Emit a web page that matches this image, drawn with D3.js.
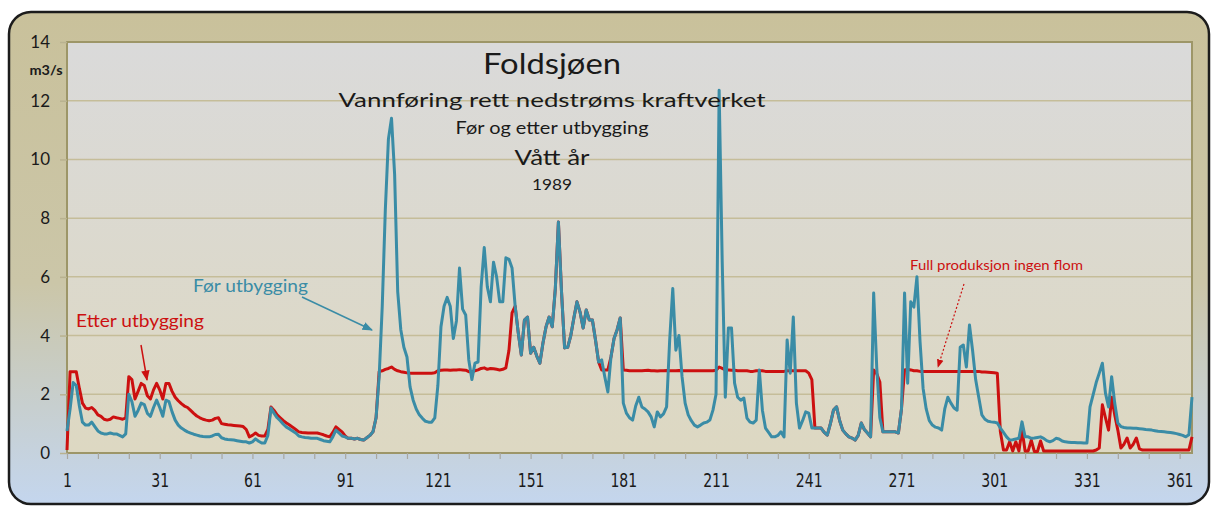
<!DOCTYPE html>
<html>
<head>
<meta charset="utf-8">
<script src="https://cdn.jsdelivr.net/npm/d3@7"></script>
<style>
  body { margin: 0; background: #fff; }
  svg { display: block; }
  text { font-family: Lato, "Noto Sans", sans-serif; fill: #1a1a1a; }
</style>
</head>
<body>
<div id="chart"></div>
<script>
"use strict";

// daily flow, m3/s, day 1..365 (1989)
var foer = [
  0.75,1.5,2.4,2.3,1.6,1.05,0.95,0.95,1.05,0.9,
  0.75,0.68,0.65,0.65,0.68,0.65,0.65,0.6,0.55,0.65,
  2.0,1.75,1.25,1.45,1.7,1.65,1.35,1.25,1.55,1.8,
  1.55,1.25,1.8,1.75,1.4,1.12,0.95,0.85,0.78,0.72,
  0.68,0.64,0.61,0.58,0.56,0.55,0.55,0.58,0.63,0.64,
  0.52,0.48,0.46,0.45,0.44,0.42,0.4,0.38,0.38,0.34,
  0.38,0.48,0.4,0.34,0.34,0.6,1.53,1.35,1.2,1.1,
  0.98,0.88,0.82,0.75,0.68,0.58,0.55,0.53,0.52,0.5,
  0.5,0.5,0.46,0.42,0.4,0.38,0.55,0.78,0.68,0.58,
  0.55,0.5,0.5,0.48,0.5,0.46,0.44,0.52,0.6,0.72,
  1.2,2.6,5.0,8.3,10.7,11.4,9.5,5.5,4.2,3.6,
  3.27,2.25,1.8,1.5,1.3,1.18,1.08,1.05,1.05,1.2,
  2.3,4.3,5.0,5.3,5.0,3.9,4.5,6.3,4.9,4.7,
  3.17,2.5,3.06,3.1,5.66,7.0,5.66,5.15,6.5,6.0,
  5.15,5.15,6.65,6.6,6.3,5.0,4.1,3.34,4.53,4.63,
  3.4,3.6,3.3,3.06,3.75,4.3,4.63,4.3,5.6,7.87,
  5.5,3.58,3.6,4.0,4.6,5.15,4.8,4.26,4.87,4.53,
  4.53,3.85,3.1,3.17,2.6,2.08,3.27,3.9,4.2,4.6,
  1.7,1.36,1.2,1.12,1.6,1.9,1.57,1.5,1.4,1.23,
  0.89,1.4,1.23,1.33,1.57,3.85,5.6,3.5,4.0,2.6,
  1.7,1.3,1.1,0.95,0.89,0.95,1.02,1.05,1.12,1.46,
  2.0,12.36,6.5,1.9,4.26,4.26,2.38,1.9,1.8,1.87,
  1.19,1.05,1.02,1.12,2.83,1.46,0.85,0.7,0.55,0.55,
  0.6,0.72,0.55,3.85,2.72,4.63,1.7,0.85,1.1,1.4,
  1.36,0.85,0.85,0.85,0.85,0.7,0.61,1.0,1.46,1.57,
  1.1,0.78,0.65,0.55,0.51,0.44,0.6,1.02,0.8,0.68,
  0.55,5.45,2.9,1.2,0.72,0.72,0.72,0.72,0.72,0.68,
  1.5,5.45,2.38,5.15,4.97,6.0,3.8,2.2,1.5,1.1,
  0.95,0.88,0.85,0.78,1.5,1.9,1.7,1.53,1.46,3.6,
  3.68,2.93,4.36,3.5,2.5,1.9,1.3,1.15,1.08,1.06,
  1.05,1.02,0.85,0.7,0.55,0.44,0.45,0.48,0.5,1.06,
  0.55,0.55,0.5,0.51,0.53,0.55,0.5,0.42,0.38,0.42,
  0.5,0.48,0.41,0.38,0.37,0.36,0.36,0.35,0.35,0.34,
  0.34,1.57,1.98,2.4,2.72,3.06,2.04,1.57,2.6,1.7,
  1.02,0.9,0.87,0.85,0.85,0.84,0.84,0.83,0.82,0.8,
  0.79,0.78,0.76,0.74,0.73,0.72,0.71,0.7,0.68,0.66,
  0.63,0.6,0.55,0.62,1.9
];

var etter = [
  0.1,2.77,2.77,2.77,2.2,1.7,1.53,1.5,1.55,1.45,
  1.3,1.25,1.15,1.12,1.15,1.23,1.2,1.18,1.15,1.2,
  2.6,2.5,1.84,2.1,2.37,2.3,1.95,1.84,2.15,2.37,
  2.15,1.84,2.37,2.37,2.1,1.9,1.78,1.68,1.6,1.55,
  1.45,1.35,1.26,1.2,1.15,1.12,1.1,1.12,1.18,1.2,
  1.0,0.98,0.96,0.95,0.94,0.93,0.92,0.9,0.8,0.55,
  0.6,0.68,0.6,0.58,0.58,0.8,1.57,1.45,1.3,1.2,
  1.1,1.02,0.95,0.88,0.8,0.72,0.7,0.69,0.68,0.68,
  0.68,0.68,0.65,0.62,0.58,0.55,0.7,0.89,0.8,0.72,
  0.58,0.5,0.5,0.48,0.5,0.46,0.44,0.52,0.6,0.72,
  1.2,2.77,2.8,2.85,2.88,2.93,2.85,2.8,2.77,2.75,
  2.73,2.72,2.72,2.72,2.72,2.72,2.72,2.72,2.72,2.73,
  2.8,2.82,2.83,2.83,2.82,2.83,2.83,2.84,2.83,2.82,
  2.77,2.77,2.8,2.83,2.88,2.9,2.85,2.88,2.87,2.85,
  2.83,2.85,2.9,3.5,4.77,5.0,4.1,3.34,4.53,4.63,
  3.4,3.6,3.3,3.06,3.75,4.3,4.63,4.3,5.6,7.87,
  5.5,3.58,3.6,4.0,4.6,5.15,4.8,4.26,4.87,4.53,
  4.53,3.85,3.1,2.83,2.83,2.83,3.27,3.9,4.2,4.6,
  2.83,2.82,2.8,2.8,2.8,2.8,2.8,2.81,2.82,2.8,
  2.8,2.79,2.8,2.8,2.81,2.8,2.8,2.8,2.81,2.8,
  2.8,2.8,2.8,2.8,2.8,2.8,2.8,2.8,2.8,2.8,
  2.82,2.93,2.88,2.83,2.83,2.82,2.82,2.8,2.8,2.8,
  2.8,2.78,2.78,2.8,2.8,2.8,2.78,2.78,2.78,2.78,
  2.78,2.78,2.78,2.8,2.8,2.8,2.8,2.8,2.8,2.8,
  2.72,2.5,0.85,0.85,0.85,0.7,0.61,1.0,1.46,1.57,
  1.1,0.78,0.65,0.55,0.51,0.44,0.6,1.02,0.8,0.68,
  0.55,2.83,2.7,2.42,0.72,0.72,0.72,0.72,0.72,0.68,
  1.5,2.83,2.85,2.83,2.8,2.8,2.78,2.78,2.78,2.78,
  2.78,2.78,2.78,2.78,2.78,2.78,2.78,2.78,2.78,2.78,
  2.78,2.78,2.78,2.78,2.78,2.78,2.76,2.76,2.75,2.74,
  2.73,2.72,0.72,0.1,0.1,0.38,0.07,0.38,0.07,0.8,
  0.07,0.07,0.44,0.05,0.05,0.41,0.07,0.07,0.07,0.07,
  0.07,0.07,0.07,0.07,0.07,0.07,0.07,0.07,0.07,0.07,
  0.07,0.07,0.07,0.1,0.17,1.64,1.2,0.78,1.9,1.3,
  0.78,0.17,0.3,0.51,0.17,0.3,0.51,0.14,0.1,0.1,
  0.1,0.1,0.1,0.1,0.1,0.1,0.1,0.1,0.1,0.1,
  0.1,0.1,0.1,0.1,0.55
];

var yTicks = [0, 2, 4, 6, 8, 10, 12, 14];
var xTickLabels = [1, 31, 61, 91, 121, 151, 181, 211, 241, 271, 301, 331, 361];
var xMinorTicks = d3.range(1, 366, 10);

var titleLines = [
  { text: "Foldsjøen", size: 29, y: 74, w: 138 },
  { text: "Vannføring rett nedstrøms kraftverket", size: 20, y: 107, w: 427 },
  { text: "Før og etter utbygging", size: 16.5, y: 134, w: 193 },
  { text: "Vått år", size: 22, y: 165, w: 75 },
  { text: "1989", size: 16, y: 190, w: 40 }
];

var blueColor = '#3a8ca6';
var redColor = '#cc1010';

var W = 1211, H = 506;
var plot = { left: 67, top: 42, right: 1192, bottom: 453 };

var svg = d3.select('#chart').append('svg')
  .attr('width', W)
  .attr('height', H);

var defs = svg.append('defs');

var bg = defs.append('linearGradient')
  .attr('id', 'bgGrad')
  .attr('x1', 0).attr('y1', 0).attr('x2', 0).attr('y2', 1);
bg.append('stop').attr('offset', '0%').attr('stop-color', '#c9c19b');
bg.append('stop').attr('offset', '55%').attr('stop-color', '#cbc6a8');
bg.append('stop').attr('offset', '100%').attr('stop-color', '#c4d6ee');

var pg = defs.append('linearGradient')
  .attr('id', 'plotGrad')
  .attr('x1', 0).attr('y1', 0).attr('x2', 0).attr('y2', 1);
pg.append('stop').attr('offset', '0%').attr('stop-color', '#dadada');
pg.append('stop').attr('offset', '100%').attr('stop-color', '#ddd8c2');

function arrowHead(id, color) {
  defs.append('marker')
    .attr('id', id)
    .attr('viewBox', '0 0 10 10')
    .attr('refX', 9).attr('refY', 5)
    .attr('markerWidth', 7).attr('markerHeight', 7)
    .attr('orient', 'auto')
    .append('path')
    .attr('d', 'M0,1 L10,5 L0,9 Z')
    .attr('fill', color);
}
arrowHead('arrBlue', blueColor);
arrowHead('arrRed', redColor);

// outer frame
svg.append('rect')
  .attr('x', 9).attr('y', 12)
  .attr('width', 1200).attr('height', 492)
  .attr('rx', 22)
  .attr('fill', 'url(#bgGrad)')
  .attr('stroke', '#1c1c1c')
  .attr('stroke-width', 2.5);

// plot area
svg.append('rect')
  .attr('x', plot.left).attr('y', plot.top)
  .attr('width', plot.right - plot.left)
  .attr('height', plot.bottom - plot.top)
  .attr('fill', 'url(#plotGrad)');

var x = d3.scaleLinear().domain([1, 365]).range([plot.left, plot.right]);
var y = d3.scaleLinear().domain([0, 14]).range([plot.bottom, plot.top]);

// gridlines
svg.append('g').selectAll('line')
  .data(yTicks.filter(function(d) { return d > 0 && d < 14; }))
  .enter().append('line')
  .attr('x1', plot.left).attr('x2', plot.right)
  .attr('y1', function(d) { return y(d); })
  .attr('y2', function(d) { return y(d); })
  .attr('stroke', '#c5bd99')
  .attr('stroke-width', 1.5);

// plot border
svg.append('rect')
  .attr('x', plot.left).attr('y', plot.top)
  .attr('width', plot.right - plot.left)
  .attr('height', plot.bottom - plot.top)
  .attr('fill', 'none')
  .attr('stroke', '#9d9668')
  .attr('stroke-width', 2);

// y axis
var yAxis = svg.append('g')
  .attr('transform', 'translate(' + plot.left + ',0)')
  .call(d3.axisLeft(y).tickValues(yTicks).tickSize(7).tickPadding(10));
yAxis.select('.domain').remove();
yAxis.selectAll('.tick line').attr('stroke', '#b9b290').attr('stroke-width', 1.5);
yAxis.selectAll('.tick text')
  .style('font-family', 'Lato, sans-serif')
  .style('font-size', '17px')
  .attr('fill', '#1a1a1a');

svg.append('text')
  .attr('x', 46).attr('y', 75)
  .attr('text-anchor', 'middle')
  .style('font-size', '12.5px')
  .style('font-weight', 'bold')
  .attr('textLength', 33)
  .attr('lengthAdjust', 'spacingAndGlyphs')
  .text('m3/s');

// x axis, tall condensed labels like the original
var xAxis = svg.append('g')
  .attr('transform', 'translate(0,' + plot.bottom + ')')
  .call(d3.axisBottom(x)
    .tickValues(xMinorTicks)
    .tickSize(6)
    .tickPadding(14)
    .tickFormat(function(d) { return xTickLabels.indexOf(d) >= 0 ? d : ''; }));
xAxis.select('.domain').remove();
xAxis.selectAll('.tick line').attr('stroke', '#a8a7a0').attr('stroke-width', 1.2);
xAxis.selectAll('.tick text')
  .style('font-family', '"DejaVu Sans Condensed", "DejaVu Sans", sans-serif')
  .style('font-size', '20px')
  .attr('transform', 'scale(0.78,1)')
  .attr('fill', '#1a1a1a');

// series
var line = d3.line()
  .x(function(d, i) { return x(i + 1); })
  .y(function(d) { return y(d); });

svg.append('path')
  .datum(etter)
  .attr('d', line)
  .attr('fill', 'none')
  .attr('stroke', redColor)
  .attr('stroke-width', 3)
  .attr('stroke-linejoin', 'round');

svg.append('path')
  .datum(foer)
  .attr('d', line)
  .attr('fill', 'none')
  .attr('stroke', blueColor)
  .attr('stroke-width', 3)
  .attr('stroke-linejoin', 'round');

// titles
svg.append('g').selectAll('text')
  .data(titleLines)
  .enter().append('text')
  .attr('x', 552)
  .attr('y', function(d) { return d.y; })
  .attr('text-anchor', 'middle')
  .attr('textLength', function(d) { return d.w; })
  .attr('lengthAdjust', 'spacingAndGlyphs')
  .style('font-size', function(d) { return d.size + 'px'; })
  .text(function(d) { return d.text; });

// annotations
svg.append('text')
  .attr('x', 193).attr('y', 292)
  .style('font-size', '17px')
  .style('fill', blueColor)
  .attr('textLength', 115)
  .attr('lengthAdjust', 'spacingAndGlyphs')
  .text('Før utbygging');
svg.append('line')
  .attr('x1', 302).attr('y1', 297).attr('x2', 372).attr('y2', 330)
  .attr('stroke', blueColor).attr('stroke-width', 1.5)
  .attr('marker-end', 'url(#arrBlue)');

svg.append('text')
  .attr('x', 76).attr('y', 327)
  .style('font-size', '17px')
  .style('fill', redColor)
  .attr('textLength', 128)
  .attr('lengthAdjust', 'spacingAndGlyphs')
  .text('Etter utbygging');
svg.append('line')
  .attr('x1', 141).attr('y1', 345).attr('x2', 147).attr('y2', 380)
  .attr('stroke', redColor).attr('stroke-width', 1.5)
  .attr('marker-end', 'url(#arrRed)');

svg.append('text')
  .attr('x', 910).attr('y', 270)
  .style('font-size', '13px')
  .style('fill', redColor)
  .attr('textLength', 173)
  .attr('lengthAdjust', 'spacingAndGlyphs')
  .text('Full produksjon ingen flom');
svg.append('line')
  .attr('x1', 964).attr('y1', 284).attr('x2', 938).attr('y2', 367)
  .attr('stroke', redColor).attr('stroke-width', 1.2)
  .attr('stroke-dasharray', '2,2')
  .attr('marker-end', 'url(#arrRed)');
</script>
</body>
</html>
